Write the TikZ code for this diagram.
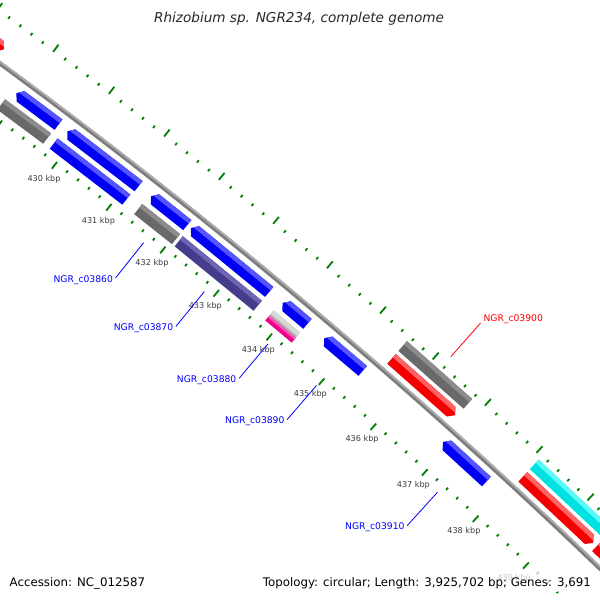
\documentclass[tikz,border=0pt]{standalone}
\usepackage{fontspec}
\setmainfont{DejaVu Sans}
\definecolor{gblue}{RGB}{0,0,245}
\definecolor{gbluehi}{RGB}{85,85,255}
\definecolor{gred}{RGB}{245,0,0}
\definecolor{gredhi}{RGB}{255,100,100}
\definecolor{ggray}{RGB}{105,105,105}
\definecolor{ggrayhi}{RGB}{140,140,140}
\definecolor{gpurple}{RGB}{70,60,140}
\definecolor{gpurplehi}{RGB}{110,100,180}
\definecolor{gcyan}{RGB}{0,225,225}
\definecolor{gcyanhi}{RGB}{90,250,250}
\definecolor{gsilver}{RGB}{175,175,175}
\definecolor{gsilverhi}{RGB}{215,215,215}
\definecolor{gpink}{RGB}{240,0,140}
\definecolor{gpinkhi}{RGB}{255,80,180}
\definecolor{bbgray}{RGB}{125,125,125}
\definecolor{bbhi}{RGB}{175,175,175}
\definecolor{tickgreen}{RGB}{0,128,0}
\definecolor{labelgray}{RGB}{60,60,60}
\definecolor{titlegray}{RGB}{40,40,40}
\definecolor{lblue}{RGB}{0,0,255}
\definecolor{lred}{RGB}{255,0,0}
\newcommand{\kang}[1]{(52.69-0.672*((#1)-430))}
\newcommand{\ghalf}{6.5}
\newcommand{\garrow}{0.075}
\newcommand{\gstripe}{4.5}
% reverse gene: arrow tip at start #1
\newcommand{\revgene}[5]{%
  \fill[#4] ({\kang{#1+\garrow}}:{#3+\ghalf}) -- ({\kang{#1}}:{#3}) -- ({\kang{#1+\garrow}}:{#3-\ghalf}) -- ({\kang{#2}}:{#3-\ghalf}) -- ({\kang{#2}}:{#3+\ghalf}) -- cycle;
  \fill[#5] ({\kang{#1+\garrow}}:{#3+\ghalf}) -- ({\kang{#2}}:{#3+\ghalf}) -- ({\kang{#2}}:{#3+\ghalf-\gstripe}) -- ({\kang{#1+\garrow*(1-\gstripe/\ghalf)}}:{#3+\ghalf-\gstripe}) -- cycle;}
% forward gene: arrow tip at end #2
\newcommand{\fwdgene}[5]{%
  \fill[#4] ({\kang{#1}}:{#3+\ghalf}) -- ({\kang{#2-\garrow}}:{#3+\ghalf}) -- ({\kang{#2}}:{#3}) -- ({\kang{#2-\garrow}}:{#3-\ghalf}) -- ({\kang{#1}}:{#3-\ghalf}) -- cycle;
  \fill[#5] ({\kang{#1}}:{#3+\ghalf}) -- ({\kang{#2-\garrow}}:{#3+\ghalf}) -- ({\kang{#2-\garrow*(1-\gstripe/\ghalf)}}:{#3+\ghalf-\gstripe}) -- ({\kang{#1}}:{#3+\ghalf-\gstripe}) -- cycle;}
% flat box
\newcommand{\boxgene}[5]{%
  \fill[#4] ({\kang{#1}}:{#3+\ghalf}) -- ({\kang{#2}}:{#3+\ghalf}) -- ({\kang{#2}}:{#3-\ghalf}) -- ({\kang{#1}}:{#3-\ghalf}) -- cycle;
  \fill[#5] ({\kang{#1}}:{#3+\ghalf}) -- ({\kang{#2}}:{#3+\ghalf}) -- ({\kang{#2}}:{#3+\ghalf-\gstripe}) -- ({\kang{#1}}:{#3+\ghalf-\gstripe}) -- cycle;}
\begin{document}
\begin{tikzpicture}[x=1pt,y=1pt,
  tickmark/.style={draw=tickgreen,line width=1.8pt},
  kbplabel/.style={font=\fontsize{8.1}{9}\selectfont,text=labelgray,inner sep=0pt},
  glabel/.style={font=\fontsize{9.2}{11}\selectfont,inner sep=0pt},
  leadb/.style={draw=lblue,line width=0.8pt},
  leadr/.style={draw=lred,line width=0.8pt},
  legendtext/.style={font=\fontsize{11.8}{14}\selectfont,inner sep=0pt,text=black}]
\useasboundingbox (0,0) rectangle (600,600);
\fill[white] (0,0) rectangle (600,600);
\begin{scope}
\clip (0,0) rectangle (600,600);
\begin{scope}[shift={(-3498,-4227)}]
  % tick rings
  \foreach \i in {0,...,70}{
    \pgfmathsetmacro\kk{427+0.2*\i}
    \pgfmathtruncatemacro\mm{mod(\i,5)}
    \ifnum\mm=0
      \draw[tickmark] ({\kang{\kk}}:5857) -- ({\kang{\kk}}:5865.5);
      \draw[tickmark] ({\kang{\kk}}:5951) -- ({\kang{\kk}}:5960);
    \else
      \draw[tickmark] ({\kang{\kk}}:5862.5) -- ({\kang{\kk}}:5865.5);
      \draw[tickmark] ({\kang{\kk}}:5951) -- ({\kang{\kk}}:5954);
    \fi
  }
  \foreach \kk in {430,...,439}{
    \node[kbplabel] (kb\kk) at ({\kang{\kk}}:5844) {\kk\ kbp};
  }
  % backbone
  \draw[draw=bbgray,line width=4.5pt] (55:5910) arc[start angle=55,end angle=45,radius=5910pt];
  \draw[draw=bbhi,line width=1.6pt] (55:5911.3) arc[start angle=55,end angle=45,radius=5911.3pt];
  % ring A (reverse CDS)
  \revgene{428.93}{429.69}{5896}{gblue}{gbluehi}
  \revgene{429.85}{431.15}{5896}{gblue}{gbluehi}
  \revgene{431.38}{432.05}{5896}{gblue}{gbluehi}
  \revgene{432.12}{433.58}{5896}{gblue}{gbluehi}
  \revgene{433.83}{434.30}{5896}{gblue}{gbluehi}
  \revgene{434.62}{435.35}{5896}{gblue}{gbluehi}
  \revgene{436.90}{437.75}{5896}{gblue}{gbluehi}
  % ring B
  \boxgene{428.85}{429.68}{5878}{ggray}{ggrayhi}
  \boxgene{429.80}{431.13}{5878}{gblue}{gbluehi}
  \boxgene{431.35}{432.05}{5878}{ggray}{ggrayhi}
  \boxgene{432.10}{433.58}{5878}{gpurple}{gpurplehi}
  \boxgene{433.80}{434.30}{5878}{gsilver}{gsilverhi}
  \fill[gpink] ({\kang{433.80}}:5877.5) -- ({\kang{434.30}}:5877.5) -- ({\kang{434.30}}:{5878-\ghalf}) -- ({\kang{433.80}}:{5878-\ghalf}) -- cycle;
  \fill[gpinkhi] ({\kang{433.80}}:5877.5) -- ({\kang{434.30}}:5877.5) -- ({\kang{434.30}}:5875.5) -- ({\kang{433.80}}:5875.5) -- cycle;
  % ring O1 (forward CDS)
  \fwdgene{427}{428.41}{5924}{gred}{gredhi}
  \fwdgene{435.55}{436.77}{5924}{gred}{gredhi}
  \fwdgene{438.09}{439.48}{5924}{gred}{gredhi}
  \fwdgene{439.55}{441}{5924}{gred}{gredhi}
  % ring O2
  \boxgene{435.55}{436.80}{5941}{ggray}{ggrayhi}
  \boxgene{438.09}{439.48}{5941}{gcyan}{gcyanhi}
  % gene labels
  \coordinate (g3860a) at ({\kang{431.715}}:5855);
  \coordinate (g3860b) at ({\kang{431.715}}:5810);
  \coordinate (g3870a) at ({\kang{432.85}}:5855);
  \coordinate (g3870b) at ({\kang{432.85}}:5810);
  \coordinate (g3880a) at ({\kang{434.05}}:5855);
  \coordinate (g3880b) at ({\kang{434.05}}:5810);
  \coordinate (g3890a) at ({\kang{434.98}}:5855);
  \coordinate (g3890b) at ({\kang{434.98}}:5810);
  \coordinate (g3910a) at ({\kang{437.33}}:5855);
  \coordinate (g3910b) at ({\kang{437.33}}:5810);
  \coordinate (g3900a) at ({\kang{436.17}}:5965);
  \coordinate (g3900b) at ({\kang{436.17}}:6010);
  \draw[leadb] (g3860a) -- (g3860b);
  \draw[leadb] (g3870a) -- (g3870b);
  \draw[leadb] (g3880a) -- (g3880b);
  \draw[leadb] (g3890a) -- (g3890b);
  \draw[leadb] (g3910a) -- (g3910b);
  \draw[leadr] (g3900a) -- (g3900b);
  \node[glabel,text=lblue,anchor=base east,xshift=-2.5pt,yshift=-4.3pt] (n3860) at (g3860b) {NGR\_c03860};
  \node[glabel,text=lblue,anchor=base east,xshift=-2.5pt,yshift=-4.3pt] (n3870) at (g3870b) {NGR\_c03870};
  \node[glabel,text=lblue,anchor=base east,xshift=-2.5pt,yshift=-4.3pt] (n3880) at (g3880b) {NGR\_c03880};
  \node[glabel,text=lblue,anchor=base east,xshift=-2.5pt,yshift=-4.3pt] (n3890) at (g3890b) {NGR\_c03890};
  \node[glabel,text=lblue,anchor=base east,xshift=-2.5pt,yshift=-4.3pt] (n3910) at (g3910b) {NGR\_c03910};
  \node[glabel,text=lred,anchor=base west,xshift=2.7pt,yshift=1.7pt] (n3900) at (g3900b) {NGR\_c03900};
\end{scope}
% legend background
\fill[white,fill opacity=0.7] (256,8) rectangle (597,29);
\end{scope}
\node[legendtext,anchor=base west] (acc) at (9.5,13.5) {Accession: NC\_012587};
\node[legendtext,anchor=base east] (topo) at (591,13.5) {Topology: circular; Length: 3,925,702 bp; Genes: 3,691};
\node[font=\itshape\fontsize{13.6}{16}\selectfont,text=titlegray,inner sep=0pt,anchor=base] (title) at (299,577.5) {Rhizobium sp. NGR234, complete genome};
\end{tikzpicture}
\end{document}
